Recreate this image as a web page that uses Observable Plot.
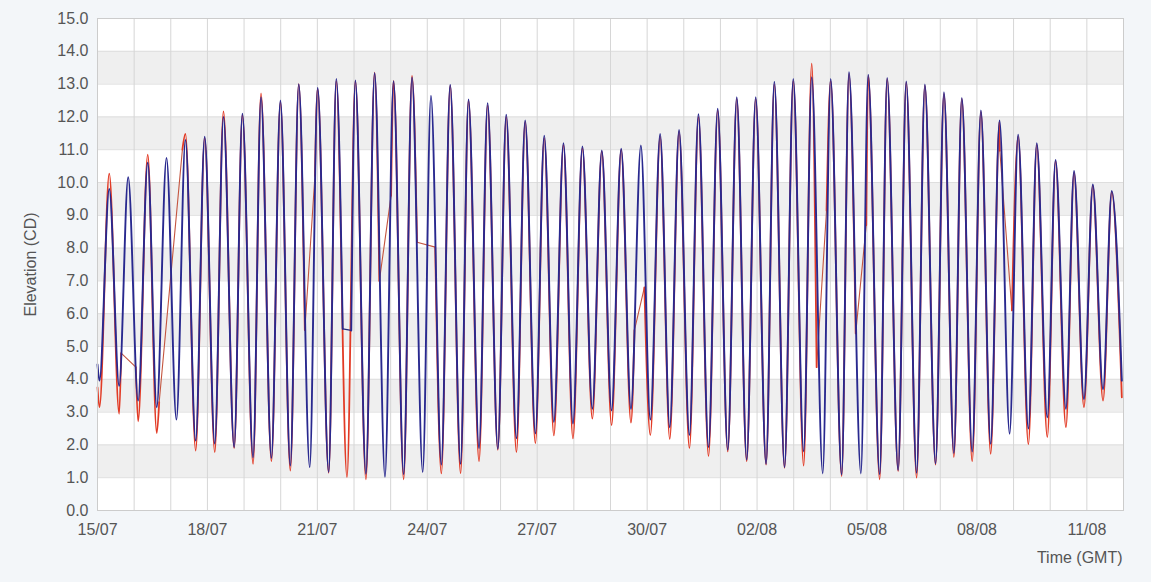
<!DOCTYPE html>
<html>
<head>
<meta charset="utf-8">
<script src="https://cdn.jsdelivr.net/npm/d3@7"></script>
<script src="https://cdn.jsdelivr.net/npm/@observablehq/plot@0.6"></script>
<style>
  html, body { margin: 0; padding: 0; background: #f3f6f9; }
  #chart { width: 1151px; height: 582px; }
</style>
</head>
<body>
<div id="chart"></div>
<script>
// ---- data (hours since 15/07 00:00 GMT, elevation in m CD) ----
const startISO = "2019-07-15T00:00Z";
const endISO = "2019-08-12T00:00Z";
const xTickDates = ["2019-07-15","2019-07-18","2019-07-21","2019-07-24","2019-07-27","2019-07-30","2019-08-02","2019-08-05","2019-08-08","2019-08-11"];
const yTicks = [0,1,2,3,4,5,6,7,8,9,10,11,12,13,14,15];
const bandLows = [1,3,5,7,9,11,13];

const highHours = [7.7,20.1,32.9,45.2,57.6,70.2,82.5,94.9,107.1,119.8,131.8,144.2,156.4,168.9,181.5,193.9,206.0,218.4,231.0,243.0,255.5,267.7,280.1,292.6,305.2,317.6,330.3,343.0,355.9,368.5,380.9,393.6,406.2,418.7,431.1,443.3,455.7,467.8,480.2,492.2,504.8,517.2,529.7,541.9,554.4,566.1,578.6,590.8,603.0,615.2,627.5,639.6,651.9,664.3];
const highObs = [9.8,10.16,10.6,10.75,11.3,11.4,12.0,12.1,12.6,12.5,13.0,12.89,13.16,13.11,13.33,13.09,13.2,12.65,12.98,12.53,12.42,12.07,11.89,11.43,11.2,11.1,10.98,11.03,11.13,11.48,11.6,12.08,12.25,12.6,12.6,13.07,13.16,13.21,13.16,13.36,13.29,13.19,13.08,12.99,12.75,12.58,12.2,11.89,11.46,11.2,10.69,10.35,9.94,9.74];
const highPred = [10.27,10.2,10.85,10.8,11.48,11.35,12.17,12.05,12.72,12.45,13.0,12.85,13.1,13.1,13.35,13.1,13.25,12.6,12.95,12.5,12.35,12.0,11.85,11.35,11.15,11.05,10.95,11.0,11.1,11.4,11.55,12.0,12.2,12.55,12.55,13.0,13.1,13.62,13.1,13.3,13.25,13.15,13.05,12.95,12.7,12.55,12.15,11.85,11.4,11.15,10.65,10.3,9.9,9.7];

const lowHours = [1.3,14.2,26.6,38.8,51.7,64.3,76.8,89.5,101.9,113.9,126.3,139.0,151.4,163.4,175.8,188.3,200.5,213.0,225.2,237.8,249.9,262.2,274.4,286.8,298.9,311.4,324.1,336.7,349.4,362.1,374.8,387.7,400.2,412.8,425.2,437.9,450.0,462.5,475.0,487.4,500.0,512.3,524.4,536.5,548.9,560.9,572.9,585.0,597.4,609.7,622.1,634.3,646.1,658.6];
const lowObs = [3.96,3.8,3.35,3.15,2.77,2.13,2.04,1.93,1.62,1.6,1.37,1.32,1.17,1.05,1.12,1.03,1.1,1.17,1.4,1.42,1.9,1.88,2.2,2.35,2.7,2.65,3.1,3.05,3.1,2.77,2.54,2.3,1.93,1.85,1.55,1.42,1.32,1.8,1.13,1.1,1.13,1.1,1.23,1.15,1.43,1.75,1.8,2.03,2.34,2.5,2.84,3.1,3.4,3.7];
const lowPred = [3.15,2.95,2.72,2.36,2.7,1.83,1.78,1.9,1.42,1.5,1.22,1.3,1.15,1.02,0.95,1.03,0.95,1.1,1.13,1.13,1.5,1.85,1.78,2.05,2.29,2.2,2.8,2.6,2.68,2.3,2.18,1.9,1.66,1.8,1.5,1.4,1.3,1.37,1.1,1.05,1.1,0.95,1.2,1.0,1.4,1.63,1.5,1.73,2.3,2.02,2.24,2.54,3.15,3.35];

const edgeHours = [0, 670.9];
const edgeObs = [4.45, 3.96];
const edgePred = [3.75, 3.45];

// gaps in the record: [hourFrom, valueFrom, hourTo, valueTo] joined by a straight line
const predGaps = [[15.5,4.8,25.1,4.37],[40.4,3.3,55.6,11.0],[135.8,5.5,142.4,10.2],[184.6,7.0,192.3,9.6],[209.3,8.18,221.2,8.03],[351.7,5.5,358.2,6.8],[471.0,4.37,477.5,9.15],[496.6,5.4,503.5,8.7],[591.0,10.97,598.9,6.1]];
const obsGaps = [[160.6,5.54,166.2,5.49]];

// ---- build series ----
const t0 = new Date(startISO).getTime();
const toDate = h => new Date(t0 + h * 3600e3);

function build(name, lowV, highV, edgeV, gaps) {
  let pts = [];
  edgeHours.forEach((h, i) => pts.push({h, v: edgeV[i]}));
  lowHours.forEach((h, i) => pts.push({h, v: lowV[i]}));
  highHours.forEach((h, i) => pts.push({h, v: highV[i]}));
  pts = pts.filter(p => !gaps.some(g => p.h > g[0] && p.h < g[2]));
  gaps.forEach(g => { pts.push({h: g[0], v: g[1], gapStart: true}); pts.push({h: g[2], v: g[3], gapEnd: true}); });
  pts.sort((a, b) => a.h - b.h);
  const rows = [];
  let seg = 0;
  for (let i = 0; i < pts.length; i++) {
    const p = pts[i];
    if (p.gapEnd) {
      const prev = pts[i - 1];
      seg++;
      rows.push({series: name, gap: true, seg: name + seg, date: toDate(prev.h), v: prev.v});
      rows.push({series: name, gap: true, seg: name + seg, date: toDate(p.h), v: p.v});
      seg++;
    }
    rows.push({series: name, gap: false, seg: name + seg, date: toDate(p.h), v: p.v});
  }
  return rows;
}

const pred = build("pred", lowPred, highPred, edgePred, predGaps);
const obs = build("obs", lowObs, highObs, edgeObs, obsGaps);

const start = new Date(startISO), end = new Date(endISO);
const days = d3.utcDay.range(start, end);

const font = "'Liberation Sans', Arial, Helvetica, sans-serif";

const chart = Plot.plot({
  width: 1151,
  height: 582,
  marginLeft: 97,
  marginRight: 28,
  marginTop: 18,
  marginBottom: 72,
  style: {background: "#f3f6f9", fontFamily: font, fontSize: "16px", color: "#555"},
  x: {type: "utc", domain: [start, end]},
  y: {domain: [0, 15]},
  marks: [
    Plot.frame({fill: "white", stroke: null}),
    Plot.rect(bandLows, {x1: () => start, x2: () => end, y1: d => d, y2: d => d + 1, fill: "#efefef"}),
    Plot.ruleY(yTicks, {stroke: "#dedede", strokeWidth: 1}),
    Plot.ruleX(days, {stroke: "#d6d6d6", strokeWidth: 1}),
    Plot.line(pred, {filter: d => d.gap, x: "date", y: "v", z: "seg", stroke: "#c4553f", strokeWidth: 1.1}),
    Plot.line(pred, {filter: d => !d.gap, x: "date", y: "v", z: "seg", stroke: "#e23b26", strokeWidth: 1.8, curve: "monotone-x"}),
    Plot.line(obs, {filter: d => d.gap, x: "date", y: "v", z: "seg", stroke: "#2a2a7a", strokeWidth: 1.3}),
    Plot.line(obs, {filter: d => !d.gap, x: "date", y: "v", z: "seg", stroke: "#29298f", strokeWidth: 1.9, curve: "monotone-x"}),
    Plot.frame({stroke: "#cccccc"}),
    Plot.axisY({ticks: yTicks, tickFormat: d => d.toFixed(1), tickSize: 0, tickPadding: 9, label: null, fontSize: 16, fill: "#555"}),
    Plot.axisX({ticks: xTickDates.map(s => new Date(s + "T00:00Z")), tickFormat: d3.utcFormat("%d/%m"), tickSize: 0, tickPadding: 13, label: null, fontSize: 16, fill: "#555"}),
    Plot.text(["Elevation (CD)"], {frameAnchor: "left", rotate: -90, dx: -67, textAnchor: "middle", lineAnchor: "middle", fontSize: 16, fill: "#555"}),
    Plot.text(["Time (GMT)"], {frameAnchor: "bottom-right", dx: -1, dy: 47, textAnchor: "end", lineAnchor: "middle", fontSize: 16, fill: "#555"})
  ]
});
document.getElementById("chart").appendChild(chart);
</script>
</body>
</html>
